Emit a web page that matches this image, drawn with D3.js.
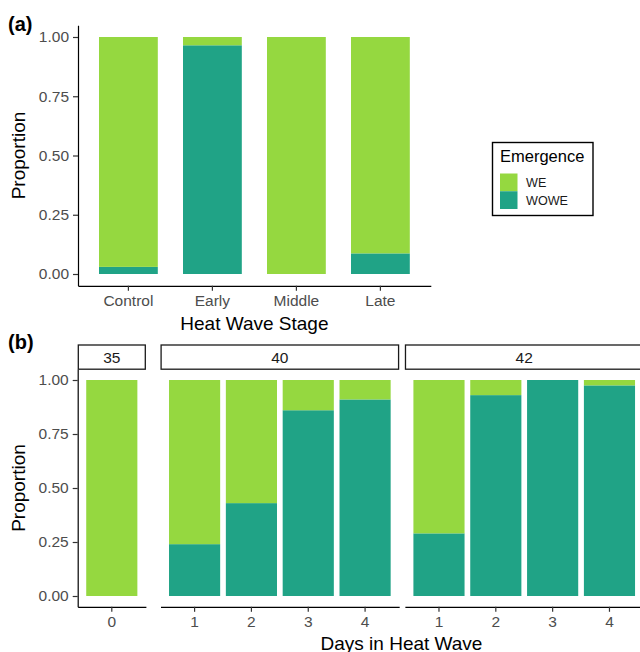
<!DOCTYPE html>
<html>
<head>
<meta charset="utf-8">
<script src="https://cdn.jsdelivr.net/npm/d3@7"></script>
<style>
  html, body { margin: 0; padding: 0; background: #fff; }
  svg { display: block; font-family: "Liberation Sans", Arial, sans-serif; }
</style>
</head>
<body>
<svg id="chart" width="640" height="652"></svg>
<script>
// ---------- data ----------
const stages = ["Control", "Early", "Middle", "Late"];
const stageWOWE = [0.03, 0.965, 0.0, 0.087];

const temps = ["35", "40", "42"];
const days35 = ["0"];
const days40 = ["1", "2", "3", "4"];
const days42 = ["1", "2", "3", "4"];
const wowe35 = [0.0];
const wowe40 = [0.24, 0.43, 0.86, 0.91];
const wowe42 = [0.29, 0.93, 1.0, 0.975];

const emergence = ["WE", "WOWE"];
const yTicks = [0, 0.25, 0.5, 0.75, 1];

// ---------- style ----------
const color = d3.scaleOrdinal().domain(emergence).range(["#95d840", "#20a386"]);
const tickFont = "15.5px";
const titleFont = "19px";
const tickColor = "#4d4d4d";

const svg = d3.select("#chart");

function stackRows(cats, wowe) {
  return cats.map((c, i) => ({ cat: c, WOWE: wowe[i], WE: 1 - wowe[i] }));
}
const stack = d3.stack().keys(["WOWE", "WE"]);

function yAxis(g, y, x0) {
  const ax = d3.axisLeft(y).tickValues(yTicks).tickFormat(d3.format(".2f"))
    .tickSize(5).tickPadding(4).tickSizeOuter(0);
  g.attr("transform", `translate(${x0},0)`).call(ax);
  g.select(".domain").attr("stroke", "#000").attr("stroke-width", 1.2);
  g.selectAll(".tick line").attr("stroke", "#333").attr("stroke-width", 1.2);
  g.selectAll(".tick text").attr("fill", tickColor).style("font-size", tickFont)
    .attr("font-family", "Liberation Sans, Arial, sans-serif");
}
function xAxis(g, x, y0) {
  const ax = d3.axisBottom(x).tickSize(5).tickPadding(4).tickSizeOuter(0);
  g.attr("transform", `translate(0,${y0})`).call(ax);
  g.select(".domain").attr("stroke", "#000").attr("stroke-width", 1.2);
  g.selectAll(".tick line").attr("stroke", "#333").attr("stroke-width", 1.2);
  g.selectAll(".tick text").attr("fill", tickColor).style("font-size", tickFont)
    .attr("font-family", "Liberation Sans, Arial, sans-serif");
}
function drawBars(g, x, y, rows) {
  const series = stack(rows);
  g.selectAll("g.s").data(series).join("g").attr("class", "s")
    .attr("fill", d => color(d.key))
    .selectAll("rect").data(d => d).join("rect")
    .attr("x", d => x(d.data.cat))
    .attr("width", x.bandwidth())
    .attr("y", d => y(d[1]))
    .attr("height", d => Math.max(0, y(d[0]) - y(d[1])));
}

// ---------- panel (a) ----------
{
  const left = 78, unitA = 84;
  const right = left + unitA * (stages.length + 0.2);
  const y = d3.scaleLinear().domain([-0.05, 1.05]).range([285.85, 25.15]);
  const x = d3.scaleBand().domain(stages).range([left, right])
    .paddingInner(0.3).paddingOuter(0.25);
  const g = svg.append("g");
  drawBars(g.append("g"), x, y, stackRows(stages, stageWOWE));
  yAxis(g.append("g"), y, left);
  xAxis(g.append("g"), x, y(-0.05));

  g.append("text").attr("x", (left + right) / 2).attr("y", 330)
    .attr("text-anchor", "middle").style("font-size", titleFont).attr("fill", "#000")
    .text("Heat Wave Stage");
  g.append("text").attr("transform", `translate(25,${y(0.5)}) rotate(-90)`)
    .attr("text-anchor", "middle").style("font-size", titleFont).attr("fill", "#000")
    .text("Proportion");
  g.append("text").attr("x", 8).attr("y", 31).style("font-size", "20px")
    .attr("font-weight", "bold").attr("fill", "#000").text("(a)");

  // legend
  const lg = svg.append("g");
  lg.append("rect").attr("x", 492.5).attr("y", 142.5).attr("width", 100.5).attr("height", 73)
    .attr("fill", "#fff").attr("stroke", "#000").attr("stroke-width", 1.4);
  lg.append("text").attr("x", 500).attr("y", 162).style("font-size", "16.5px")
    .attr("fill", "#000").text("Emergence");
  const keyY = d3.scaleBand().domain(emergence).range([173.5, 209]);
  lg.selectAll("rect.key").data(emergence).join("rect").attr("class", "key")
    .attr("x", 500).attr("y", d => keyY(d)).attr("width", 17.5).attr("height", keyY.bandwidth())
    .attr("fill", d => color(d));
  lg.selectAll("text.lab").data(emergence).join("text").attr("class", "lab")
    .attr("x", 526).attr("y", d => keyY(d) + keyY.bandwidth() / 2)
    .attr("dy", "0.36em").style("font-size", "12.6px").attr("fill", "#1a1a1a").text(d => d);
}

// ---------- panel (b) ----------
{
  const unitB = 56.83;
  const y = d3.scaleLinear().domain([-0.05, 1.05]).range([606.8, 369.2]);
  const cats = [days35, days40, days42];
  const vals = [wowe35, wowe40, wowe42];
  const gaps = [14.6, 5.7];
  let left = 77.7;
  const g = svg.append("g");
  const stripTop = 345, stripBot = 369.2;
  temps.forEach((t, k) => {
    const w = unitB * (cats[k].length + 0.2);
    const x = d3.scaleBand().domain(cats[k]).range([left, left + w])
      .paddingInner(0.1).paddingOuter(0.15);
    const pg = g.append("g");
    drawBars(pg.append("g"), x, y, stackRows(cats[k], vals[k]));
    xAxis(pg.append("g"), x, y(-0.05));
    // strip
    pg.append("rect").attr("x", left + 0.6).attr("y", stripTop).attr("width", w - 1.2)
      .attr("height", stripBot - stripTop).attr("fill", "#fff")
      .attr("stroke", "#1a1a1a").attr("stroke-width", 1.3);
    pg.append("text").attr("x", left + w / 2).attr("y", (stripTop + stripBot) / 2)
      .attr("dy", "0.36em").attr("text-anchor", "middle").style("font-size", "15.5px")
      .attr("fill", "#1a1a1a").text(t);
    left += w + (gaps[k] || 0);
  });
  yAxis(g.append("g"), y, 77.7);

  g.append("text").attr("x", 401.5).attr("y", 649.5)
    .attr("text-anchor", "middle").style("font-size", titleFont).attr("fill", "#000")
    .text("Days in Heat Wave");
  g.append("text").attr("transform", `translate(25,${y(0.5)}) rotate(-90)`)
    .attr("text-anchor", "middle").style("font-size", titleFont).attr("fill", "#000")
    .text("Proportion");
  g.append("text").attr("x", 8).attr("y", 349).style("font-size", "20px")
    .attr("font-weight", "bold").attr("fill", "#000").text("(b)");
}
</script>
</body>
</html>
